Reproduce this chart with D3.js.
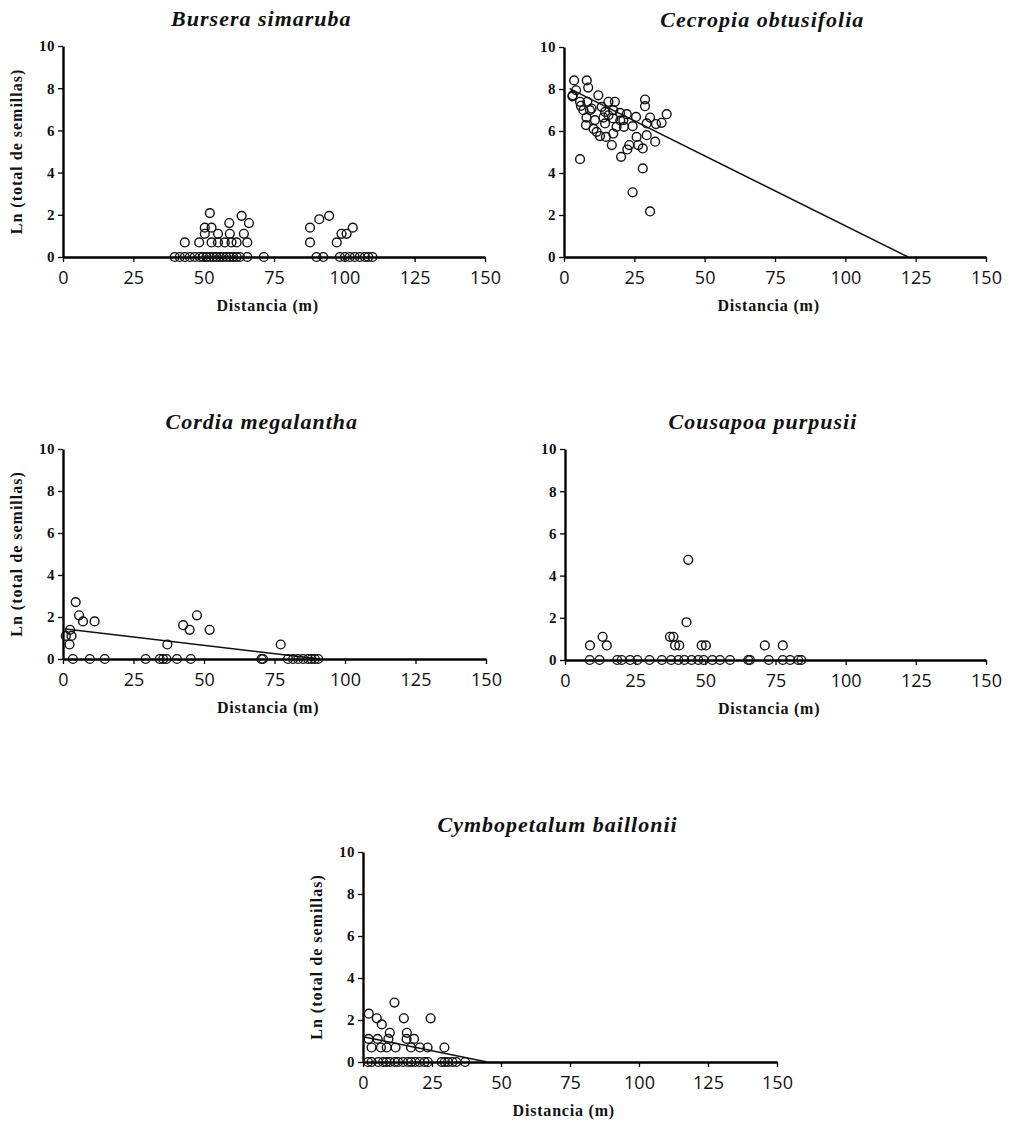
<!DOCTYPE html>
<html>
<head>
<meta charset="utf-8">
<script src="https://cdn.jsdelivr.net/npm/d3@7"></script>
<style>
  body { margin: 0; background: #fff; }
  svg { display: block; }
</style>
</head>
<body>
<svg id="svgDispersal"></svg>
<script>
var xTicks = [0, 25, 50, 75, 100, 125, 150]
var yTicks = [0, 2, 4, 6, 8, 10]

var speciesNames = ["Bursera simaruba", "Cecropia obtusifolia", "Cordia megalantha", "Cousapoa purpusii", "Cymbopetalum baillonii"]

// Bursera simaruba
var bursDist = [43.3, 48.4, 52.8, 55.1, 57.5, 59.9, 61.7, 65.5, 50.4, 55.1, 59.3, 64.3, 50.4, 52.8, 59.1, 66.1, 63.5, 52.2,
                87.8, 87.8, 91.1, 94.6, 97.3, 99.0, 100.8, 103.0,
                39.7, 41.5, 43.3, 45.1, 46.8, 48.6, 49.8, 51.0, 52.2, 53.4, 54.6, 55.8, 56.9, 58.1, 59.3, 60.5, 61.7, 62.9, 65.5, 71.4,
                90.1, 92.5, 98.4, 100.2, 101.9, 103.7, 105.5, 107.3, 108.5, 110.0]
var bursLn = [0.69, 0.69, 0.69, 0.69, 0.69, 0.69, 0.69, 0.69, 1.10, 1.10, 1.10, 1.10, 1.39, 1.39, 1.61, 1.61, 1.95, 2.08,
              1.39, 0.69, 1.79, 1.95, 0.69, 1.10, 1.10, 1.39,
              0, 0, 0, 0, 0, 0, 0, 0, 0, 0, 0, 0, 0, 0, 0, 0, 0, 0, 0, 0,
              0, 0, 0, 0, 0, 0, 0, 0, 0, 0]
var bursFit = []

// Cecropia obtusifolia
var cecrDist = [3.6, 8.1, 8.6, 4.3, 3.1, 5.7, 8.3, 12.2, 15.8, 18.1, 28.8, 28.8, 6.9, 9.8, 13.4, 14.6, 17.5, 19.9, 22.3, 25.6,
                30.6, 36.5, 8.0, 11.0, 14.0, 17.5, 21.1, 7.8, 14.6, 18.7, 21.3, 24.4, 29.4, 32.7, 34.7, 11.6, 12.8, 14.9, 17.5,
                25.8, 29.4, 17.0, 23.2, 26.4, 32.4, 22.5, 28.0, 20.3, 5.7, 28.0, 24.4, 30.6, 9.2, 15.8, 3.0, 6.0, 10.5, 20.0]
var cecrLn = [8.41, 8.41, 8.07, 7.94, 7.70, 7.39, 7.39, 7.70, 7.39, 7.39, 7.50, 7.18, 6.99, 7.07, 7.15, 6.91, 6.99, 6.86, 6.80, 6.67,
              6.64, 6.80, 6.64, 6.52, 6.64, 6.60, 6.52, 6.28, 6.36, 6.20, 6.20, 6.23, 6.36, 6.33, 6.39, 5.96, 5.76, 5.72, 5.88,
              5.72, 5.80, 5.33, 5.33, 5.33, 5.49, 5.12, 5.17, 4.77, 4.66, 4.22, 3.08, 2.17, 6.99, 6.75, 7.65, 7.20, 6.10, 6.50]
var cecrFit = [[2, 8.02], [122.3, 0]]

// Cordia megalantha
var cordDist = [4.5, 5.7, 7.1, 11.2, 2.5, 3.0, 1.0, 2.3, 37.0, 42.6, 44.9, 47.5, 52.0, 77.2,
                3.5, 9.5, 14.8, 29.3, 34.3, 35.5, 36.7, 40.4, 45.3, 70.4, 70.9, 79.8, 81.6, 83.4, 85.2, 86.9, 88.1, 89.3, 90.5]
var cordLn = [2.71, 2.08, 1.79, 1.79, 1.39, 1.10, 1.10, 0.69, 0.69, 1.61, 1.39, 2.08, 1.39, 0.69,
              0, 0, 0, 0, 0, 0, 0, 0, 0, 0, 0, 0, 0, 0, 0, 0, 0, 0, 0]
var cordFit = [[1, 1.43], [91, 0]]

// Cousapoa purpusii
var cousDist = [8.9, 13.4, 14.9, 37.4, 38.6, 39.2, 40.7, 43.3, 43.9, 48.7, 50.2, 71.2, 77.6,
                8.8, 12.3, 18.6, 20.2, 23.2, 25.8, 30.1, 34.5, 37.8, 40.4, 42.5, 45.1, 47.5, 49.4, 52.5, 55.2, 58.8, 65.3, 65.9,
                72.6, 77.6, 80.2, 83.1, 84.2]
var cousLn = [0.69, 1.10, 0.69, 1.10, 1.10, 0.69, 0.69, 1.79, 4.75, 0.69, 0.69, 0.69, 0.69,
              0, 0, 0, 0, 0, 0, 0, 0, 0, 0, 0, 0, 0, 0, 0, 0, 0, 0, 0,
              0, 0, 0, 0, 0]
var cousFit = []

// Cymbopetalum baillonii
var cymbDist = [11.4, 2.1, 5.0, 6.8, 14.8, 24.5, 9.7, 15.9, 5.3, 9.2, 15.8, 18.5, 2.0, 3.1, 6.5, 8.6, 11.8, 17.4, 20.6, 23.4, 29.5,
                1.8, 3.1, 5.5, 7.3, 8.5, 9.7, 11.5, 12.7, 14.5, 16.3, 17.5, 18.9, 20.5, 22.3, 23.5, 28.5, 29.6, 30.8, 32.4, 33.8, 37.0]
var cymbLn = [2.83, 2.30, 2.08, 1.79, 2.08, 2.08, 1.39, 1.39, 1.10, 1.10, 1.10, 1.10, 1.10, 0.69, 0.69, 0.69, 0.69, 0.69, 0.69, 0.69, 0.69,
              0, 0, 0, 0, 0, 0, 0, 0, 0, 0, 0, 0, 0, 0, 0, 0, 0, 0, 0, 0, 0]
var cymbFit = [[0.5, 1.19], [45, 0]]

var outerWidth = 1014, outerHeight = 1123

var panels = [
    {name: speciesNames[0], dist: bursDist, ln: bursLn, fit: bursFit, x0: 63, x1: 485, y0: 257, y1: 46, yTitle: true},
    {name: speciesNames[1], dist: cecrDist, ln: cecrLn, fit: cecrFit, x0: 564, x1: 986, y0: 257, y1: 47, yTitle: false},
    {name: speciesNames[2], dist: cordDist, ln: cordLn, fit: cordFit, x0: 63, x1: 486, y0: 659, y1: 449, yTitle: true},
    {name: speciesNames[3], dist: cousDist, ln: cousLn, fit: cousFit, x0: 565, x1: 986, y0: 660, y1: 449, yTitle: false},
    {name: speciesNames[4], dist: cymbDist, ln: cymbLn, fit: cymbFit, x0: 363, x1: 777, y0: 1062, y1: 852, yTitle: true}
]

var svg = d3.select("svg#svgDispersal")
            .attr("width", outerWidth)
            .attr("height", outerHeight)

svg.append("rect")
    .attr("width", outerWidth)
    .attr("height", outerHeight)
    .attr("fill", "white")

function plot_panel(p){

    var xScale = d3.scaleLinear().domain([0, 150]).range([p.x0, p.x1]),
        yScale = d3.scaleLinear().domain([0, 10]).range([p.y0, p.y1]);

    var g = svg.append("g").attr("class", "panel")

    // x axis
    var xAxis = g.append("g")
        .attr("transform", "translate(0," + p.y0 + ")")
        .call(d3.axisBottom(xScale).tickValues(xTicks).tickSize(5).tickSizeOuter(0).tickPadding(9))
    xAxis.select(".domain").attr("stroke-width", 2.4)
    xAxis.selectAll(".tick line").attr("stroke-width", 1.3)
    xAxis.selectAll("text")
        .attr("font-family", "'Open Sans', sans-serif")
        .attr("font-size", "18px")
        .attr("fill", "#111")

    // y axis
    var yAxis = g.append("g")
        .attr("transform", "translate(" + p.x0 + ",0)")
        .call(d3.axisLeft(yScale).tickValues(yTicks).tickSize(5).tickSizeOuter(0).tickPadding(3))
    yAxis.select(".domain").attr("stroke-width", 2.4)
    yAxis.selectAll(".tick line").attr("stroke-width", 1.3)
    yAxis.selectAll("text")
        .attr("font-family", "'Liberation Serif', 'Times New Roman', serif")
        .attr("font-weight", "bold")
        .attr("font-size", "15px")
        .attr("letter-spacing", "0.5px")
        .attr("fill", "#111")

    // fitted line
    if (p.fit.length > 0) {
        g.append("path")
            .datum(p.fit)
            .attr("fill", "none")
            .attr("stroke", "#111")
            .attr("stroke-width", 1.5)
            .attr("d", d3.line()
                .x(function(d){ return xScale(d[0]) })
                .y(function(d){ return yScale(d[1]) }))
    }

    g.selectAll("circle.point")
        .data(d3.range(p.dist.length))
        .enter()
        .append("circle")
        .attr("class", "point")
        .attr("cx", function(i){ return xScale(p.dist[i]) })
        .attr("cy", function(i){ return yScale(p.ln[i]) })
        .attr("r", 4.4)
        .attr("fill", "none")
        .attr("stroke", "#111")
        .attr("stroke-width", 1.4)

    // titles
    g.append("text")
        .attr("x", p.x0 + (p.x1 - p.x0) * 0.47)
        .attr("y", p.y1 - 20)
        .attr("text-anchor", "middle")
        .attr("font-family", "'Liberation Serif', 'Times New Roman', serif")
        .attr("font-weight", "bold")
        .attr("font-style", "italic")
        .attr("font-size", "22px")
        .attr("letter-spacing", "1px")
        .attr("fill", "#111")
        .text(p.name)

    g.append("text")
        .attr("x", p.x0 + (p.x1 - p.x0) * 0.485)
        .attr("y", p.y0 + 54)
        .attr("text-anchor", "middle")
        .attr("font-family", "'Liberation Serif', 'Times New Roman', serif")
        .attr("font-weight", "bold")
        .attr("font-size", "16px")
        .attr("letter-spacing", "0.8px")
        .attr("fill", "#111")
        .text("Distancia (m)")

    if (p.yTitle) {
        var cx = p.x0 - 41, cy = (p.y0 + p.y1) / 2
        g.append("text")
            .attr("transform", "translate(" + cx + "," + cy + ") rotate(-90)")
            .attr("text-anchor", "middle")
            .attr("font-family", "'Liberation Serif', 'Times New Roman', serif")
            .attr("font-weight", "bold")
            .attr("font-size", "16px")
            .attr("letter-spacing", "1px")
            .attr("fill", "#111")
            .text("Ln (total de semillas)")
    }
}

panels.forEach(plot_panel)
</script>
</body>
</html>
